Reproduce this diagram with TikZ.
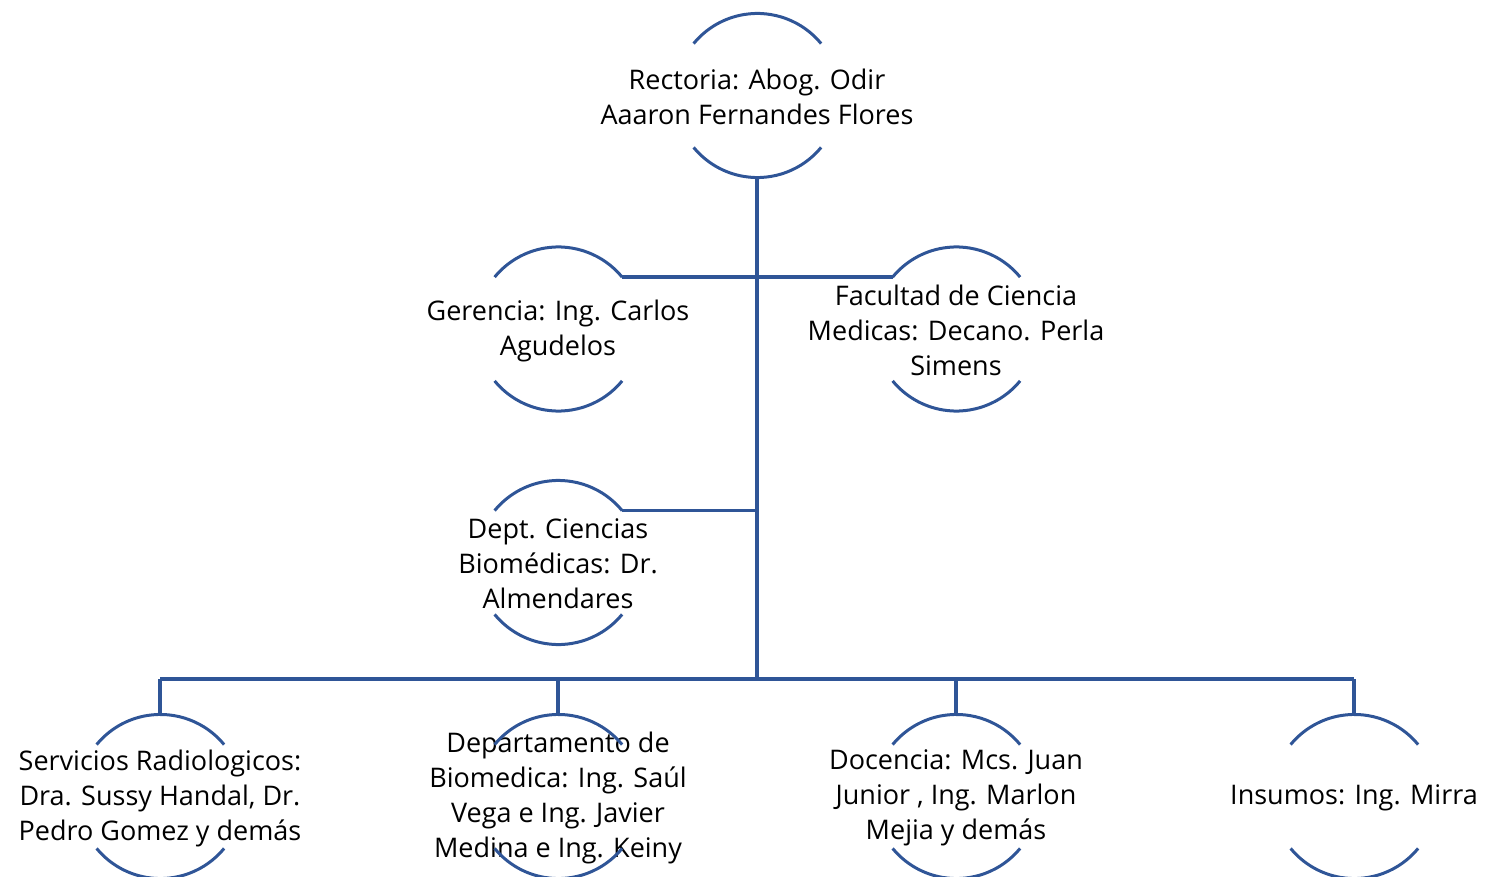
\documentclass[tikz,border=0pt]{standalone}
\usepackage{fontspec}
\setmainfont{Open Sans}
\definecolor{lineblue}{RGB}{47,85,151}
\begin{document}
\begin{tikzpicture}[x=1pt,y=1pt,
  org/.style={circle,draw=none,minimum size=165pt,inner sep=0pt,outer sep=0pt,
    label={[align=center,font=\fontsize{27}{35}\selectfont,text=black,inner sep=0pt,yshift=-1.5pt]center:#1}},
  arcline/.style={draw=lineblue,line width=3pt},
  conn/.style={draw=lineblue,line width=3.2pt}]
\useasboundingbox (0,0) rectangle (1485,-877);
\node[org={Rectoria: Abog. Odir\\Aaaron Fernandes Flores}] (rect) at (757,-95.5) {};
\node[org={Gerencia: Ing. Carlos\\Agudelos}] (ger) at (558,-329) {};
\node[org={Facultad de Ciencia\\Medicas: Decano. Perla\\Simens}] (fac) at (956,-329) {};
\node[org={Dept. Ciencias\\Biomédicas: Dr.\\Almendares}] (dept) at (558,-562.5) {};
\node[org={Servicios Radiologicos:\\Dra. Sussy Handal, Dr.\\Pedro Gomez y demás}] (serv) at (160,-796.5) {};
\node[org={Departamento de\\Biomedica: Ing. Saúl\\Vega e Ing. Javier\\Medina e Ing. Keiny}] (biom) at (558,-796.5) {};
\node[org={Docencia: Mcs. Juan\\Junior , Ing. Marlon\\Mejia y demás}] (doc) at (956,-796.5) {};
\node[org={Insumos: Ing. Mirra}] (ins) at (1354,-796.5) {};
\foreach \n in {rect,ger,fac,dept,serv,biom,doc,ins}{
  \draw[arcline] (\n.39.4) arc[start angle=39.4,end angle=140.6,radius=82.5];
  \draw[arcline] (\n.-39.4) arc[start angle=-39.4,end angle=-140.6,radius=82.5];
}
\coordinate (busL) at (160,-679);
\coordinate (busR) at (1354,-679);
\draw[conn] (rect.south) -- (rect.south |- busL);
\draw[conn] (ger.39.4) -- (ger.39.4 -| fac.140.6);
\draw[conn] (dept.39.4) -- (dept.39.4 -| rect.south);
\draw[conn] (busL) -- (busR);
\foreach \n in {serv,biom,doc,ins}{
  \draw[conn] (\n.north |- busL) -- (\n.north);
}
\end{tikzpicture}
\end{document}
